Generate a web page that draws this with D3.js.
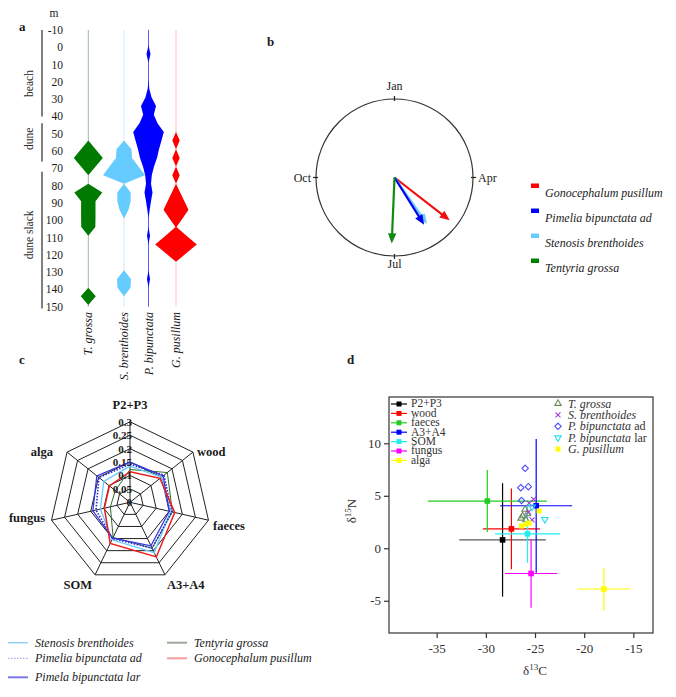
<!DOCTYPE html>
<html><head><meta charset="utf-8">
<script src="https://d3js.org/d3.v7.min.js"></script>
<style>
body{margin:0;background:#fff;}
svg{display:block;font-family:"Liberation Serif","Times New Roman",serif;}
</style></head><body>
<svg id="chart" width="676" height="697"></svg>
<script>
// ================= DATA =================
// ---- Panel a: kite diagram (half-width of abundance band along transect, m)
const depthTicks = [-10,0,10,20,30,40,50,60,70,80,90,100,110,120,130,140,150];
const stations = [-6,-1,4,9,14,19,24,29,34,39,44,49,54,59,64,69,74,79,84,89,94,99,104,109,114,119,124,129,134,139,144,149];
const kiteSpecies = ["T. grossa","S. brenthoides","P. bipunctata","G. pusillum"];
const kiteTGrossa = [0,0,0,0,0,0,0,0,0,0,0,0,0,7.3,14.5,7.3,0,0,14,7.2,7.2,7.2,7,0,0,0,0,0,0,0,7.5,0];
const kiteSBrenth = [0,0,0,0,0,0,0,0,0,0,0,0,0,7.5,8,14.5,21,0,6.7,6.7,4.5,0,0,0,0,0,0,0,7,6.5,0,0];
const kitePBipunc = [0,0,2,0,0,0,0.8,3,7.5,5.3,9,15.3,13,10.5,8.5,5.5,3.3,2.5,4,2.5,1.2,0,0,1.5,0,0,0,0,1.5,0,0,0];
const kiteGPusill = [0,0,0,0,0,0,0,0,0,0,0,0,3.7,0,3.7,0,3.7,0,4.2,8.4,12.5,6.5,0.5,10.5,20.8,10.5,0,0,0,0,0,0];
const zones = ["beach","dune","dune slack"];
const zoneFrom = [-10,44,72];
const zoneTo = [40,66,151];
const zoneLabelAt = [21,53,108.5];

// ---- Panel b: circular mean activity (month, 0 = Jan) and vector length
const phenoSpecies = ["Gonocephalum pusillum","Pimelia bipunctata ad","Stenosis brenthoides","Tentyria grossa"];
const phenoMonth = [4.26,4.93,4.83,6.08];
const phenoLength = [0.89,0.71,0.72,0.84];
const monthLabels = ["Jan","Apr","Jul","Oct"];
const monthPos = [0,3,6,9];

// ---- Panel c: diet proportions (radar)
const dietAxes = ["P2+P3","wood","faeces","A3+A4","SOM","fungus","alga"];
const radarTicks = [0,0.05,0.1,0.15,0.2,0.25,0.3];
const radarTickLabels = ["0","0.05","0.1","0.15","0.2","0.25","0.3"];
const radarSeries = ["Stenosis brenthoides","Pimelia bipunctata ad","Pimela bipunctata lar","Tentyria grossa","Gonocephalum pusillum"];
const dietStenosis = [0.135,0.15,0.155,0.208,0.155,0.113,0.125];
const dietPimeliaAd = [0.142,0.162,0.16,0.19,0.15,0.13,0.148];
const dietPimelaLar = [0.15,0.158,0.15,0.18,0.148,0.142,0.158];
const dietTentyria = [0.122,0.178,0.162,0.19,0.145,0.075,0.07];
const dietGonoceph = [0.114,0.143,0.171,0.226,0.17,0.098,0.098];

// ---- Panel d: stable isotopes
const xTicks = [-35,-30,-25,-20,-15];
const yTicks = [-5,0,5,10];
const sources = ["P2+P3","wood","faeces","A3+A4","SOM","fungus","alga"];
const srcC = [-28.3,-27.4,-29.85,-24.88,-25.76,-25.4,-18.0];
const srcCsd = [4.4,2.9,6.05,3.66,3.3,2.66,2.66];
const srcN = [0.8,1.85,4.5,4.05,1.37,-2.4,-3.88];
const srcNsd = [5.4,3.85,2.95,6.37,2.75,3.26,2.03];
const consumers = ["T. grossa","S. brenthoides","P. bipunctata ad","P. bipunctata lar","G. pusillum"];
const tGrossaC = [-26.0,-25.78,-26.25,-26.42,-25.92];
const tGrossaN = [3.71,3.27,3.08,2.86,2.7];
const sBrenthC = [-25.6,-25.65,-25.3,-25.15];
const sBrenthN = [4.3,3.45,2.7,4.65];
const pBipAdC = [-26.0,-26.45,-25.68,-26.37];
const pBipAdN = [7.62,5.77,5.87,4.55];
const pBipLarC = [-24.0,-25.3];
const pBipLarN = [2.76,3.95];
const gPusC = [-24.59,-25.6,-25.9,-26.37];
const gPusN = [3.55,2.4,2.3,2.12];

// ================= DRAWING =================
const svg = d3.select("#chart");
const ink = "#1a1a1a";

// panel letters
const letters = [["a",19,31],["b",267,46],["c",19,364],["d",347,364]];
svg.selectAll("text.plabel").data(letters).join("text").attr("class","plabel")
  .attr("x",d=>d[1]).attr("y",d=>d[2]).text(d=>d[0])
  .attr("font-size",13).attr("font-weight","bold").attr("fill",ink);

// ---------- Panel a ----------
(function(){
  const g = svg.append("g");
  const y = d3.scaleLinear().domain([-10,150]).range([29.9,306.7]);
  const w = d3.scaleLinear().domain([0,1]).range([0,1]);
  const colX = [88.3,124,148.5,176];
  const fills = ["#007a00","#66ccff","#0000ff","#ff0000"];
  const thin = ["#9dbb9d","#cfe8fb","#5a5aff","#ffc0c0"];
  const vals = [kiteTGrossa,kiteSBrenth,kitePBipunc,kiteGPusill];
  g.selectAll("text.dt").data(depthTicks).join("text").attr("class","dt")
    .attr("x",63).attr("y",d=>y(d)+4).attr("text-anchor","end")
    .attr("font-size",11.5).attr("fill",ink).text(d=>d);
  g.append("text").attr("x",54).attr("y",17).attr("text-anchor","middle")
    .attr("font-size",11.5).attr("fill",ink).text("m");
  zones.forEach((z,i)=>{
    g.append("line").attr("x1",42).attr("x2",42).attr("y1",y(zoneFrom[i])).attr("y2",y(zoneTo[i]))
      .attr("stroke","#555").attr("stroke-width",1.5);
    g.append("text").attr("transform",`translate(33,${y(zoneLabelAt[i])}) rotate(-90)`)
      .attr("text-anchor","middle").attr("font-size",11.5).attr("fill","#2a2a2a").text(z);
  });
  kiteSpecies.forEach((sp,k)=>{
    g.append("line").attr("x1",colX[k]).attr("x2",colX[k]).attr("y1",y(-10)).attr("y2",y(150))
      .attr("stroke",thin[k]).attr("stroke-width",1);
    const data = stations.map((s,i)=>({s:s,v:vals[k][i]}));
    const area = d3.area().x0(d=>colX[k]-w(d.v)).x1(d=>colX[k]+w(d.v)).y(d=>y(d.s));
    g.append("path").datum(data).attr("d",area).attr("fill",fills[k]);
    g.append("text").attr("transform",`translate(${colX[k]+4},312) rotate(-90)`)
      .attr("text-anchor","end").attr("font-size",12).attr("font-style","italic").attr("fill",ink).text(sp);
  });
})();

// ---------- Panel b ----------
(function(){
  const g = svg.append("g");
  const cx = 394.5, cy = 177.5, R = 78.5;
  const ang = d3.scaleLinear().domain([0,12]).range([0,2*Math.PI]);
  const len = d3.scaleLinear().domain([0,1]).range([0,R]);
  g.append("circle").attr("cx",cx).attr("cy",cy).attr("r",R).attr("fill","none").attr("stroke","#333").attr("stroke-width",1.2);
  monthLabels.forEach((m,i)=>{
    const a = ang(monthPos[i]);
    const sx = Math.sin(a), sy = -Math.cos(a);
    g.append("line").attr("x1",cx+sx*(R-2)).attr("y1",cy+sy*(R-2)).attr("x2",cx+sx*(R+3)).attr("y2",cy+sy*(R+3))
      .attr("stroke","#222").attr("stroke-width",1.2);
    let tx = cx+sx*(R+10), ty = cy+sy*(R+10)+4, anchor="middle";
    if (i===0) ty = cy-R-9;
    if (i===2) ty = cy+R+12;
    if (i===1) {anchor="start"; tx = cx+R+5;}
    if (i===3) {anchor="end"; tx = cx-R-5;}
    g.append("text").attr("x",tx).attr("y",ty).attr("text-anchor",anchor).attr("font-size",12).attr("fill",ink).text(m);
  });
  const cols = ["#f01010","#0000ee","#66ccff","#118a11"];
  const order = [0,2,1,3];
  order.forEach(i=>{
    const a = ang(phenoMonth[i]); const L = len(phenoLength[i]);
    const ux = Math.sin(a), uy = -Math.cos(a);
    const ex = cx+ux*L, ey = cy+uy*L, hl = 10, hw = 4.2;
    const bx = ex-ux*hl, by = ey-uy*hl;
    g.append("line").attr("x1",cx).attr("y1",cy).attr("x2",bx+ux*1).attr("y2",by+uy*1)
      .attr("stroke",cols[i]).attr("stroke-width",2.2);
    const px = -uy, py = ux;
    g.append("path").attr("d",`M${ex},${ey}L${bx+px*hw},${by+py*hw}L${bx-px*hw},${by-py*hw}Z`).attr("fill",cols[i]);
  });
  const lcols = ["#ff0000","#0000ff","#66ccff","#008000"];
  phenoSpecies.forEach((s,i)=>{
    const yy = 186+i*25;
    g.append("rect").attr("x",531).attr("y",yy-2.5).attr("width",8).attr("height",4.5).attr("fill",lcols[i]);
    g.append("text").attr("x",545).attr("y",yy+11).attr("font-size",12).attr("font-style","italic").attr("fill",ink).text(s);
  });
})();

// ---------- Panel c ----------
(function(){
  const g = svg.append("g");
  const cx = 130, cy = 502.3;
  const r = d3.scaleLinear().domain([0,0.3]).range([0,80.5]);
  const n = dietAxes.length;
  const angle = i => -Math.PI/2 + i*2*Math.PI/n;
  const pt = (i,v) => [cx + r(v)*Math.cos(angle(i)), cy + r(v)*Math.sin(angle(i))];
  radarTicks.slice(1).forEach(t=>{
    g.append("path").attr("d", d3.line()(d3.range(n).map(i=>pt(i,t))) + "Z")
      .attr("fill","none").attr("stroke","#222").attr("stroke-width",1);
  });
  dietAxes.forEach((a,i)=>{
    const p = pt(i,0.3);
    g.append("line").attr("x1",cx).attr("y1",cy).attr("x2",p[0]).attr("y2",p[1]).attr("stroke","#222").attr("stroke-width",1);
  });
  const series = [dietTentyria,dietStenosis,dietPimeliaAd,dietPimelaLar,dietGonoceph];
  const sc = ["#2f6b2f","#66ccff","#2a2ad8","#3838e0","#ee1c1c"];
  const dash = [null,null,"1.5,1.5",null,null];
  const sw = [1,1.3,1.6,1.3,1.5];
  series.forEach((s,k)=>{
    g.append("path").attr("d", d3.line()(s.map((v,i)=>pt(i,v)))+"Z")
      .attr("fill","none").attr("stroke",sc[k]).attr("stroke-width",sw[k]).attr("stroke-dasharray",dash[k]);
  });
  radarTicks.forEach((t,i)=>{
    g.append("text").attr("x",cx+2).attr("y",cy-r(t)+4).attr("text-anchor","end")
      .attr("font-size",11).attr("font-weight","bold").attr("fill",ink).text(radarTickLabels[i]);
  });
  const off = [[0,-13,"middle"],[4,4,"start"],[4.5,10,"start"],[2,14,"start"],[-3,14,"end"],[-6.5,2,"end"],[-14,4,"end"]];
  dietAxes.forEach((a,i)=>{
    const p = pt(i,0.3);
    g.append("text").attr("x",p[0]+off[i][0]).attr("y",p[1]+off[i][1]).attr("text-anchor",off[i][2])
      .attr("font-size",12.5).attr("font-weight","bold").attr("fill",ink).text(a);
  });
  const lx = [8,8,8,167,167], ly = [642.7,658.3,677.3,642.7,658.3];
  const lcol = ["#8fd3f3","#a9adf0","#7a7ae8","#9aaa98","#f3a0a0"];
  const ldash = [null,"1.5,1.5",null,null,null];
  const lsw = [1.5,1.2,2,2,2];
  radarSeries.forEach((s,i)=>{
    g.append("line").attr("x1",lx[i]).attr("x2",lx[i]+20).attr("y1",ly[i]).attr("y2",ly[i])
      .attr("stroke",lcol[i]).attr("stroke-width",lsw[i]).attr("stroke-dasharray",ldash[i]);
    g.append("text").attr("x",lx[i]+27).attr("y",ly[i]+4).attr("font-size",12).attr("font-style","italic").attr("fill",ink).text(s);
  });
})();

// ---------- Panel d ----------
(function(){
  const g = svg.append("g");
  const x = d3.scaleLinear().domain([-39.85,-13.0]).range([389,653]);
  const y = d3.scaleLinear().domain([-8.07,14.41]).range([633,397]);
  g.append("rect").attr("x",389).attr("y",397).attr("width",264).attr("height",236)
    .attr("fill","none").attr("stroke","#333").attr("stroke-width",1.2);
  const xa = d3.axisBottom(x).tickValues(xTicks).tickSize(5).tickPadding(6).tickFormat(d=>d);
  const ya = d3.axisLeft(y).tickValues(yTicks).tickSize(5).tickPadding(3).tickFormat(d=>d);
  const gx = g.append("g").attr("transform","translate(0,633)").call(xa);
  const gy = g.append("g").attr("transform","translate(389,0)").call(ya);
  [gx,gy].forEach(a=>{
    a.select(".domain").remove();
    a.selectAll("line").attr("stroke","#333").attr("stroke-width",1.2);
    a.selectAll("text").attr("font-family","Liberation Serif, serif").attr("font-size",13).attr("fill","#333");
  });
  const xt = g.append("text").attr("x",535).attr("y",675).attr("text-anchor","middle").attr("font-size",13).attr("fill","#333");
  xt.append("tspan").text("δ");
  xt.append("tspan").attr("dy",-5).attr("font-size",9).text("13");
  xt.append("tspan").attr("dy",5).text("C");
  const yt = g.append("text").attr("transform","translate(356,511) rotate(-90)").attr("text-anchor","middle").attr("font-size",13).attr("fill","#333");
  yt.append("tspan").text("δ");
  yt.append("tspan").attr("dy",-5).attr("font-size",9).text("15");
  yt.append("tspan").attr("dy",5).text("N");

  const scol = ["#000000","#ff0000","#22cc22","#0000ff","#22eeee","#ff00ff","#ffff00"];
  sources.forEach((s,i)=>{
    g.append("line").attr("x1",x(srcC[i]-srcCsd[i])).attr("x2",x(srcC[i]+srcCsd[i])).attr("y1",y(srcN[i])).attr("y2",y(srcN[i]))
      .attr("stroke",scol[i]).attr("stroke-width",1.2).attr("opacity",i===0?0.65:1);
    g.append("line").attr("x1",x(srcC[i])).attr("x2",x(srcC[i])).attr("y1",y(srcN[i]-srcNsd[i])).attr("y2",y(srcN[i]+srcNsd[i]))
      .attr("stroke",scol[i]).attr("stroke-width",1.2);
    g.append("rect").attr("x",x(srcC[i])-2.8).attr("y",y(srcN[i])-2.8).attr("width",5.6).attr("height",5.6).attr("fill",scol[i]);
  });
  const xPath = "M-2.5,-2.5L2.5,2.5M-2.5,2.5L2.5,-2.5";
  const tri = d3.symbol().type(d3.symbolTriangle).size(18)();
  const dia = "M0,-3.2L3.2,0L0,3.2L-3.2,0Z";
  const sq = "M-2.5,-2.5H2.5V2.5H-2.5Z";
  const cons = [
    {c:tGrossaC,n:tGrossaN,d:tri,stroke:"#6b8a5c",fill:"none",rot:0},
    {c:sBrenthC,n:sBrenthN,d:xPath,stroke:"#a040d0",fill:"none",rot:0},
    {c:pBipAdC,n:pBipAdN,d:dia,stroke:"#4d4dff",fill:"none",rot:0},
    {c:pBipLarC,n:pBipLarN,d:tri,stroke:"#22e0f0",fill:"none",rot:180},
    {c:gPusC,n:gPusN,d:sq,stroke:"none",fill:"#ffff00",rot:0}
  ];
  cons.forEach(o=>{
    o.c.forEach((cv,i)=>{
      g.append("path").attr("d",o.d).attr("transform",`translate(${x(cv)},${y(o.n[i])}) rotate(${o.rot})`)
        .attr("fill",o.fill).attr("stroke",o.stroke).attr("stroke-width",1.1);
    });
  });
  sources.forEach((s,i)=>{
    const yy = 404+i*9.4;
    g.append("line").attr("x1",391).attr("x2",407).attr("y1",yy).attr("y2",yy).attr("stroke",scol[i]).attr("stroke-width",1.2);
    g.append("rect").attr("x",396.5).attr("y",yy-2.5).attr("width",5).attr("height",5).attr("fill",scol[i]);
    g.append("text").attr("x",411).attr("y",yy+3.3).attr("font-size",11.5).attr("fill","#333").text(s);
  });
  const italicPart = ["T. grossa","S. brenthoides","P. bipunctata","P. bipunctata","G. pusillum"];
  const plainPart = ["",""," ad"," lar",""];
  consumers.forEach((s,i)=>{
    const yy = 403.5+i*11.4;
    const o = cons[i];
    g.append("path").attr("d",o.d).attr("transform",`translate(558,${yy}) rotate(${o.rot})`)
      .attr("fill",o.fill).attr("stroke",o.stroke).attr("stroke-width",1.1);
    const t = g.append("text").attr("x",568).attr("y",yy+4).attr("font-size",12).attr("fill","#333");
    t.append("tspan").attr("font-style","italic").text(italicPart[i]);
    if (plainPart[i]) t.append("tspan").text(plainPart[i]);
  });
})();
</script>
</body></html>
